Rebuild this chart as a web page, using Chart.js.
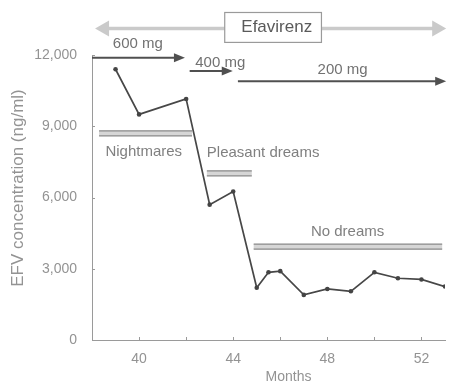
<!DOCTYPE html>
<html>
<head>
<meta charset="utf-8">
<script src="https://cdn.jsdelivr.net/npm/chart.js@4.4.1/dist/chart.umd.min.js"></script>
<style>
  html, body { margin: 0; padding: 0; background: #fff; }
  #wrap { width: 449px; height: 381px; }
</style>
</head>
<body>
<div id="wrap"><canvas id="efv" width="449" height="381"></canvas></div>
<script>
// Efavirenz plasma concentration over time
const months = [39, 40, 42, 43, 44, 45, 45.5, 46, 47, 48, 49, 50, 51, 52, 53];
const efvConcentration = [11400, 9500, 10150, 5700, 6250, 2200, 2850, 2900, 1900, 2150, 2050, 2850, 2600, 2550, 2250];

const monthTicks = [40, 42, 44, 46, 48, 50, 52];
const monthTickLabels = ['40', '', '44', '', '48', '', '52'];
const concentrationTicks = [0, 3000, 6000, 9000, 12000];
const concentrationTickLabels = ['0', '3,000', '6,000', '9,000', '12,000'];

const drugLabel = 'Efavirenz';
const doseLabels = ['600 mg', '400 mg', '200 mg'];
const dreamLabels = ['Nightmares', 'Pleasant dreams', 'No dreams'];
const xTitle = 'Months';
const yTitle = 'EFV concentration (ng/ml)';

const FONT = "'Liberation Sans', Arial, sans-serif";

function arrowHead(ctx, x, y, dir, len, half) {
  ctx.beginPath();
  ctx.moveTo(x, y);
  ctx.lineTo(x - dir * len, y - half);
  ctx.lineTo(x - dir * len, y + half);
  ctx.closePath();
  ctx.fill();
}

// Dose periods, symptom periods and axis titles, placed in data space
const annotationsPlugin = {
  id: 'efvAnnotations',
  afterDraw(chart) {
    const ctx = chart.ctx;
    const xs = chart.scales.x, ys = chart.scales.y;
    const X = v => xs.getPixelForValue(v);
    const Y = v => ys.getPixelForValue(v);
    ctx.save();

    // inward tick marks
    ctx.strokeStyle = '#9a9a9a';
    ctx.lineWidth = 1;
    const ax = X(38), ay = Y(0);
    concentrationTicks.forEach(v => {
      const y = Math.round(Y(v)) + 0.5;
      ctx.beginPath(); ctx.moveTo(ax, y); ctx.lineTo(ax + 3, y); ctx.stroke();
    });
    monthTicks.forEach(m => {
      const x = Math.round(X(m)) + 0.5;
      ctx.beginPath(); ctx.moveTo(x, ay); ctx.lineTo(x, ay - 3); ctx.stroke();
    });

    // Efavirenz double-headed arrow with boxed label
    const eY = Y(13120), eL = X(38.13), eR = X(53.05);
    ctx.strokeStyle = '#cacaca';
    ctx.fillStyle = '#cacaca';
    ctx.lineWidth = 3.5;
    ctx.beginPath(); ctx.moveTo(eL + 10, eY); ctx.lineTo(eR - 10, eY); ctx.stroke();
    arrowHead(ctx, eL, eY, -1, 14, 8);
    arrowHead(ctx, eR, eY, 1, 14, 8);
    const bL = X(43.64), bR = X(47.75), bT = Y(13790), bB = Y(12530);
    ctx.fillStyle = '#ffffff';
    ctx.fillRect(bL, bT, bR - bL, bB - bT);
    ctx.strokeStyle = '#9a9a9a';
    ctx.lineWidth = 1.2;
    ctx.strokeRect(bL, bT, bR - bL, bB - bT);
    ctx.fillStyle = '#5a5a5a';
    ctx.font = '17px ' + FONT;
    ctx.textAlign = 'center';
    ctx.textBaseline = 'middle';
    ctx.fillText(drugLabel, X(45.85), Y(13150));

    // dose arrows
    const doses = [
      { from: 38, to: 41.95, at: 11880, label: doseLabels[0], lx: 39.95, ly: 12450 },
      { from: 42.15, to: 43.98, at: 11330, label: doseLabels[1], lx: 43.45, ly: 11660 },
      { from: 44.2, to: 53.05, at: 10900, label: doseLabels[2], lx: 48.65, ly: 11360 }
    ];
    doses.forEach(d => {
      const y = Y(d.at), x0 = X(d.from), x1 = X(d.to);
      ctx.strokeStyle = '#505050';
      ctx.fillStyle = '#505050';
      ctx.lineWidth = 2;
      ctx.beginPath(); ctx.moveTo(x0, y); ctx.lineTo(x1 - 8, y); ctx.stroke();
      arrowHead(ctx, x1, y, 1, 11, 4.5);
      ctx.fillStyle = '#727272';
      ctx.font = '15px ' + FONT;
      ctx.textAlign = 'center';
      ctx.textBaseline = 'middle';
      ctx.fillText(d.label, X(d.lx), Y(d.ly));
    });

    // symptom periods: double bars with labels
    const dreams = [
      { from: 38.3, to: 42.25, at: 8700, label: dreamLabels[0], lx: 40.2, ly: 7920, align: 'center' },
      { from: 42.88, to: 44.79, at: 7020, label: dreamLabels[1], lx: 42.88, ly: 7860, align: 'left' },
      { from: 44.87, to: 52.88, at: 3930, label: dreamLabels[2], lx: 48.86, ly: 4560, align: 'center' }
    ];
    dreams.forEach(d => {
      const y = Y(d.at), x0 = X(d.from), x1 = X(d.to);
      ctx.fillStyle = '#d6d6d6';
      ctx.fillRect(x0, y - 2.5, x1 - x0, 5);
      ctx.strokeStyle = '#888888';
      ctx.lineWidth = 1.2;
      ctx.beginPath(); ctx.moveTo(x0, y - 2.5); ctx.lineTo(x1, y - 2.5); ctx.stroke();
      ctx.beginPath(); ctx.moveTo(x0, y + 2.5); ctx.lineTo(x1, y + 2.5); ctx.stroke();
      ctx.fillStyle = '#808080';
      ctx.font = '15px ' + FONT;
      ctx.textAlign = d.align;
      ctx.textBaseline = 'middle';
      ctx.fillText(d.label, X(d.lx), Y(d.ly));
    });

    // axis titles
    ctx.fillStyle = '#939393';
    ctx.font = '14px ' + FONT;
    ctx.textAlign = 'center';
    ctx.textBaseline = 'middle';
    ctx.fillText(xTitle, X(46.35), 377);
    ctx.save();
    ctx.translate(18, Y(6400));
    ctx.rotate(-Math.PI / 2);
    ctx.font = '17px ' + FONT;
    ctx.fillText(yTitle, 0, 0);
    ctx.restore();

    ctx.restore();
  }
};

new Chart(document.getElementById('efv'), {
  type: 'line',
  data: {
    datasets: [{
      data: months.map((m, i) => ({ x: m, y: efvConcentration[i] })),
      borderColor: '#474747',
      borderWidth: 1.7,
      pointRadius: 2.3,
      pointBackgroundColor: '#444444',
      pointBorderWidth: 0,
      tension: 0
    }]
  },
  options: {
    responsive: false,
    animation: false,
    layout: { padding: { left: 0, right: 3, top: 55, bottom: 0 } },
    plugins: { legend: { display: false }, tooltip: { enabled: false } },
    scales: {
      x: {
        type: 'linear',
        min: 38,
        max: 53,
        afterFit(s) { s.height = 41; },
        afterBuildTicks(s) { s.ticks = monthTicks.map(v => ({ value: v })); },
        grid: { display: false },
        border: { display: true, color: '#9a9a9a', width: 1 },
        ticks: {
          callback: (v, i) => monthTickLabels[i],
          color: '#939393',
          font: { family: FONT, size: 14 },
          padding: 3,
          maxRotation: 0,
          autoSkip: false
        }
      },
      y: {
        min: 0,
        max: 12000,
        afterFit(s) { s.width = 92; },
        afterBuildTicks(s) { s.ticks = concentrationTicks.map(v => ({ value: v })); },
        grid: { display: false },
        border: { display: true, color: '#9a9a9a', width: 1 },
        ticks: {
          callback: (v, i) => concentrationTickLabels[i],
          color: '#939393',
          font: { family: FONT, size: 14 },
          padding: 7
        }
      }
    }
  },
  plugins: [annotationsPlugin]
});
</script>
</body>
</html>
